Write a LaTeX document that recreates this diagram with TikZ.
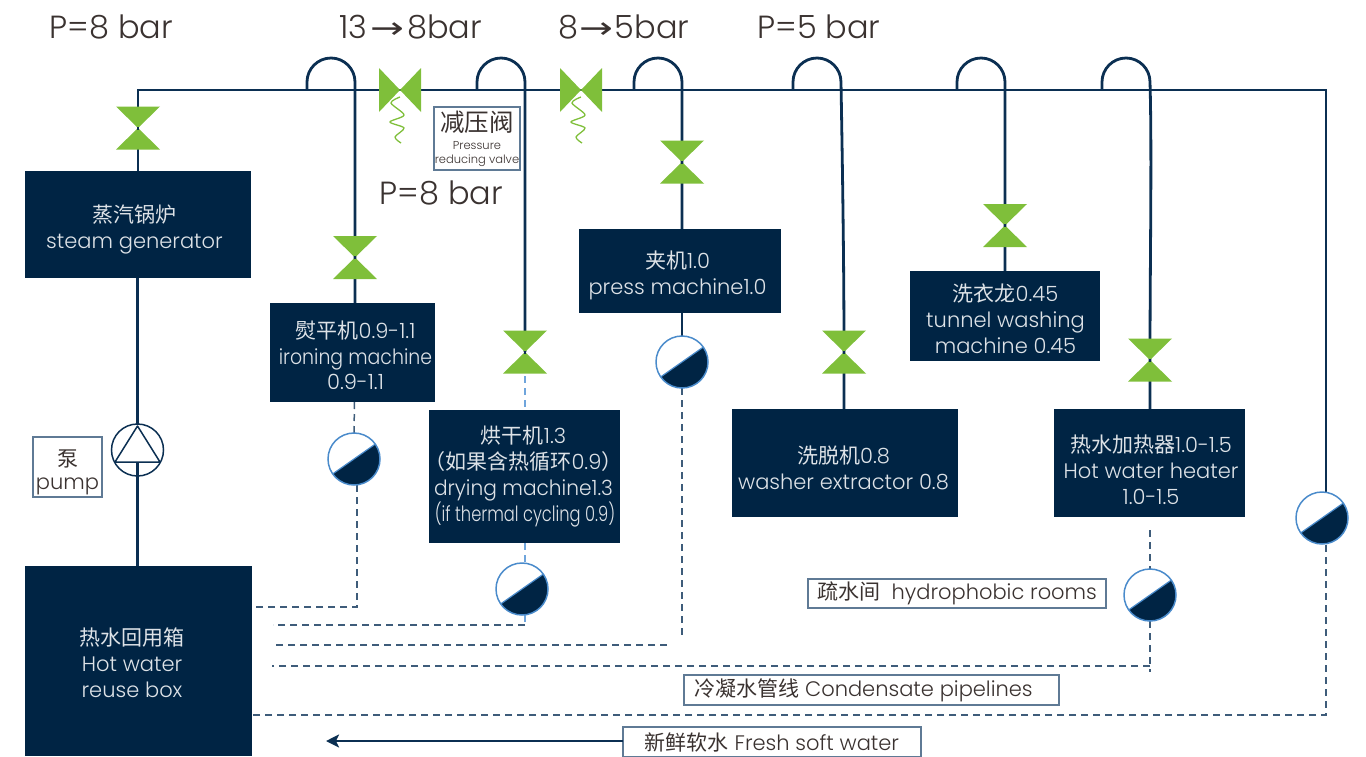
\documentclass[tikz,border=0pt]{standalone}
\usepackage{fontspec}
\usepackage{graphicx}
\setmainfont{Poppins Light}
\newfontfamily\cjk{Noto Sans CJK SC}
\newfontfamily\arrowfont{DejaVu Sans}
\usetikzlibrary{arrows.meta,backgrounds}
\definecolor{navy}{HTML}{002444}
\definecolor{pipe}{HTML}{0B2F52}
\definecolor{valvegreen}{HTML}{7FBF3A}
\definecolor{dashc}{HTML}{3E5C7A}
\definecolor{lightb}{HTML}{6FA5DC}
\definecolor{trapb}{HTML}{4A8BCB}
\definecolor{boxtext}{HTML}{DDE2E7}
\definecolor{labtext}{HTML}{3A3230}
\definecolor{labb}{HTML}{5F7A95}
\newcommand\zh[1]{{\cjk #1}}
\newcommand\humpup{-- ++(0,-8) .. controls +(0,-13.2) and +(-13.2,0) .. ++(24,-24) .. controls +(13.2,0) and +(0,-13.2) .. ++(24,24)}
\newcommand\squeeze[2]{\scalebox{#1}[1]{#2}}
\newcommand\tightlines{\lineskiplimit -50pt\relax}
\tikzset{
  pipeline/.style={draw=pipe,line width=2.8pt},
  dashline/.style={draw=dashc,line width=1.5pt,dash pattern=on 7pt off 5pt},
  bluedash/.style={draw=lightb,line width=1.5pt,dash pattern=on 7pt off 5pt},
  navybox/.style={fill=navy,inner sep=0pt,outer sep=0pt},
  boxtxt/.style={text=boxtext,inner sep=0pt,outer sep=0pt,align=center,font=\fontsize{21}{26}\selectfont\tightlines},
  labelbox/.style={draw=labb,line width=1.2pt,fill=white,text=labtext,inner sep=0pt,outer sep=0pt,align=center,font=\fontsize{21}{24}\selectfont\tightlines},
  labeltxt/.style={text=labtext,inner sep=0pt,outer sep=0pt,align=center,font=\fontsize{21}{23}\selectfont\tightlines},
  headtext/.style={text=labtext,inner sep=0pt,font=\fontsize{32}{36}\selectfont},
  vvalve/.style={minimum width=44pt,minimum height=43pt,inner sep=0pt,outer sep=0pt,
    path picture={
      \fill[valvegreen] (-22,-21.5) -- (22,-21.5) -- (0,0) -- cycle;
      \fill[valvegreen] (-22,21.5) -- (22,21.5) -- (0,0) -- cycle;
      \fill[pipe] (-1.2,-1.5) rectangle (1.2,1.5);}},
  hvalve/.style={minimum width=44pt,minimum height=46pt,inner sep=0pt,outer sep=0pt,
    path picture={
      \fill[valvegreen] (-21,-22) -- (-21,22) -- (0,0) -- cycle;
      \fill[valvegreen] (21,-22) -- (21,22) -- (0,0) -- cycle;}},
  trapnode/.style={circle,minimum size=52pt,inner sep=0pt,outer sep=0pt,fill=white,draw=trapb,line width=1.5pt,
    path picture={
      \fill[navy] (215:26.5pt) arc[start angle=215,end angle=395,radius=26.5pt] -- cycle;
      \draw[trapb,line width=1.2pt] (215:26.5pt) -- (35:26.5pt);}},
  springline/.style={draw=valvegreen,line width=1.3pt}
}
\begin{document}
\begin{tikzpicture}[x=1pt,y=-1pt]
\useasboundingbox (0,0) rectangle (1366,756);
% boxes
\node[navybox,minimum width=226pt,minimum height=107pt] (boiler) at (138,224.5) {};
\node[boxtxt] (boilert) at (134.5,229) {\zh{蒸汽锅炉}\\steam generator};
\node[navybox,minimum width=227pt,minimum height=190pt] (tank) at (138.5,661) {};
\node[boxtxt] (tankt) at (132,663) {\zh{热水回用箱}\\Hot water\\reuse box};
\node[navybox,minimum width=165pt,minimum height=99pt] (iron) at (352.5,352.5) {};
\node[boxtxt,font=\fontsize{21}{25.5}\selectfont\tightlines] (iront) at (355.5,355.5) {\zh{熨平机}0.9-1.1\\\squeeze{0.9}{ironing machine}\\0.9-1.1};
\node[navybox,minimum width=191pt,minimum height=133pt] (dry) at (524.5,476.5) {};
\node[boxtxt] (dryt) at (523.5,476) {\zh{烘干机}1.3\\\zh{（如果含热循环}0.9\zh{）}\\\squeeze{0.96}{drying machine1.3}\\\hspace*{3pt}\squeeze{0.775}{(if thermal cycling 0.9)}};
\node[navybox,minimum width=202pt,minimum height=84pt] (press) at (680,271) {};
\node[boxtxt] (presst) at (677.5,275.5) {\zh{夹机}1.0\\press machine1.0};
\node[navybox,minimum width=226pt,minimum height=108pt] (washer) at (845,463) {};
\node[boxtxt] (washert) at (843.5,468) {\zh{洗脱机}0.8\\washer extractor 0.8};
\node[navybox,minimum width=190pt,minimum height=90pt] (tunnel) at (1005,316) {};
\node[boxtxt] (tunnelt) at (1005.5,318.5) {\zh{洗衣龙}0.45\\tunnel washing\\machine 0.45};
\node[navybox,minimum width=191pt,minimum height=108pt] (heater) at (1149.5,463) {};
\node[boxtxt] (heatert) at (1151,470) {\zh{热水加热器}1.0-1.5\\Hot water heater\\1.0-1.5};
% valves
\node[vvalve] (v0) at (138,128) {};
\node[vvalve] (v1) at (355,257.5) {};
\node[vvalve] (v2) at (525,352) {};
\node[vvalve] (v3) at (682,162) {};
\node[vvalve] (v4) at (844,352) {};
\node[vvalve] (v5) at (1005,225.5) {};
\node[vvalve] (v6) at (1150,360) {};
\node[hvalve] (r1) at (400,90) {};
\node[hvalve] (r2) at (581,90) {};
% traps
\node[trapnode] (t1) at (354,459) {};
\node[trapnode] (t2) at (522,589) {};
\node[trapnode] (t3) at (682,362) {};
\node[trapnode] (t4) at (1150,595) {};
\node[trapnode] (t5) at (1322,518) {};
% pump
\node[circle,draw=pipe,line width=1.5pt,minimum size=52pt,inner sep=0pt,outer sep=0pt] (pump) at (137.5,450) {};
\coordinate (pa) at (137.5,426);
\coordinate (pb) at (115,462);
\coordinate (pc) at (160,462);
\coordinate (pbase) at (137.5,462);
\draw[draw=pipe,line width=1.5pt,line join=round] (pa) -- (pb) -- (pc) -- cycle;
% coordinates
\coordinate (m0) at (138,90);
\coordinate (m1) at (1326,90);
\coordinate (h1) at (307,90);
\coordinate (h2) at (477,90);
\coordinate (h3) at (634,90);
\coordinate (h4) at (793,90);
\coordinate (h5) at (957,90);
\coordinate (h6) at (1102,90);
\coordinate (d1) at (357,607);
\coordinate (d1e) at (255,607);
\coordinate (d2) at (525,625);
\coordinate (d2e) at (273,625);
\coordinate (d3) at (682,636);
\coordinate (d3a) at (667,645);
\coordinate (d3e) at (276,645);
\coordinate (d4) at (1150,672);
\coordinate (d4c) at (1150,666);
\coordinate (d4e) at (272,666);
\coordinate (d5) at (1326,715);
\coordinate (d5e) at (251,715);
\coordinate (p1) at (1326,494);
\coordinate (q5) at (1326,545);
\coordinate (q4) at (1150,530);
\coordinate (q1a) at (354.5,402);
\coordinate (aw) at (326,741);
% pipes behind
\begin{pgfonlayer}{background}
\draw[pipeline] (tank.north -| pump.south) -- (pbase);
\draw[pipeline] (pump.north) -- (boiler.south -| pump.north);
\draw[pipeline] (boiler.north -| v0) -- (v0.center) -- (m0) -- (m1) -- (p1);
\draw[pipeline] (h1) \humpup -- (v1.center) -- (iron.north -| v1);
\draw[pipeline] (h2) \humpup -- (v2.center);
\draw[pipeline] (h3) \humpup -- (v3.center) -- (press.north -| v3);
\draw[pipeline] (press.south -| t3) -- (t3.north);
\draw[pipeline] (h4) \humpup .. controls +(1,60) and +(0,-100) .. (v4.center) -- (washer.north -| v4);
\draw[pipeline] (h5) \humpup -- (v5.center) -- (tunnel.north -| v5);
\draw[pipeline] (h6) \humpup .. controls +(2,70) and +(0,-100) .. (v6.center) -- (heater.north -| v6);
\draw[bluedash] (v2.center) -- (dry.north -| v2);
\draw[bluedash] (dry.south -| d2) -- (t2.north -| d2);
\draw[bluedash] (t2.south -| d2) -- (d2);
\draw[dashline] (iron.south -| q1a) -- (t1.north);
\draw[dashline] (t1.south -| d1) -- (d1) -- (d1e);
\draw[dashline] (d2) -- (d2e);
\draw[dashline] (t3.south) -- (d3);
\draw[dashline] (d3a) -- (d3e);
\draw[dashline] (q4) -- (t4.north);
\draw[dashline] (t4.south) -- (d4);
\draw[dashline] (d4c) -- (d4e);
\draw[dashline] (q5) -- (d5) -- (d5e);
\end{pgfonlayer}
% springs
\draw[springline,shift={(r1.center)}] plot[smooth] coordinates {(0,7) (-9,13) (4,25) (-10,32) (4,38) (-5,47) (1,53)};
\draw[springline,shift={(r2.center)}] plot[smooth] coordinates {(0,7) (-9,13) (4,25) (-10,32) (4,38) (-5,47) (1,53)};
% labels
\node[labelbox,minimum width=86pt,minimum height=63pt,font=\fontsize{24.5}{20}\selectfont\tightlines] (lvalve) at (477,138.5) {\zh{减压阀}\\[-2pt]{\fontsize{11.5}{14}\selectfont Pressure}\\[-6pt]{\fontsize{11.5}{14}\selectfont reducing valve}};
\node[labelbox,minimum width=69pt,minimum height=60pt] (lpump) at (67.5,467) {};
\node[labeltxt] (lpumpt) at (67.5,472) {\zh{泵}\\pump};
\node[labelbox,minimum width=298pt,minimum height=29pt] (lroom) at (957,593.5) {\raisebox{-2pt}{\zh{疏水间}\ \ hydrophobic rooms}};
\node[labelbox,minimum width=375pt,minimum height=30pt] (lcond) at (871.5,690) {\raisebox{2pt}{\zh{冷凝水管线} Condensate pipelines}\hspace*{16pt}};
\node[labelbox,minimum width=298pt,minimum height=30pt] (lfresh) at (772,742) {\zh{新鲜软水} Fresh soft water};
\draw[-{Stealth[length=13pt,width=13pt,inset=3pt]},draw=pipe,line width=2.4pt] (lfresh.west |- aw) -- (aw);
\node[headtext] (p8a) at (111.5,27) {P=8 bar};
\node[headtext] (p138) at (410.5,27) {13\hspace{3pt}{\arrowfont\fontsize{30}{30}\selectfont\squeeze{1.35}{→}}\hspace{3pt}8bar};
\node[headtext] (p85) at (624,27) {8\hspace{1pt}{\arrowfont\fontsize{30}{30}\selectfont\squeeze{1.35}{→}}\hspace{1pt}5bar};
\node[headtext] (p5) at (819,27) {P=5 bar};
\node[headtext] (p8b) at (441.5,193) {P=8 bar};
\end{tikzpicture}
\end{document}
